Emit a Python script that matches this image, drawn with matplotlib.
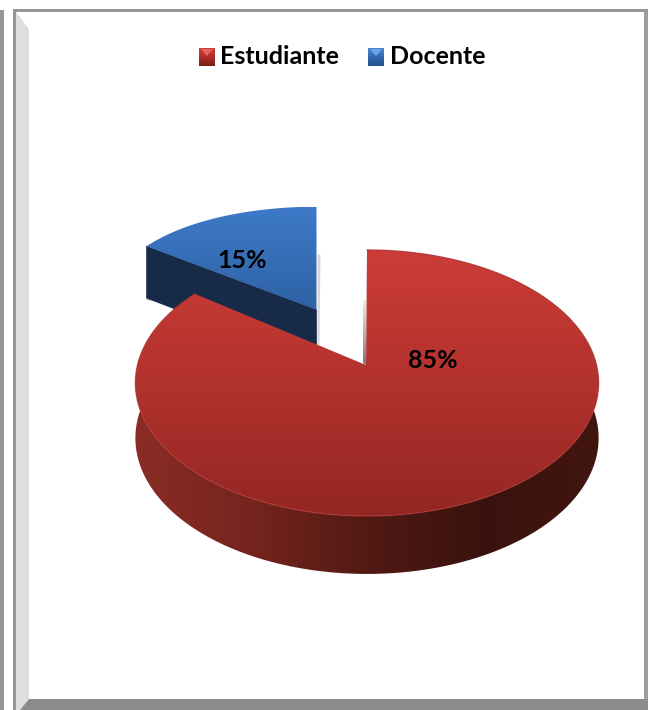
import numpy as np
import matplotlib
matplotlib.use("Agg")
import matplotlib.pyplot as plt
from matplotlib.patches import Polygon
from matplotlib.colors import LinearSegmentedColormap

categorias = ["Estudiante", "Docente"]
valores = [85, 15]
etiquetas = ["85%", "15%"]

# geometria del disco en perspectiva (en pixeles)
CX, CY = 367, 365
APEX_X = 366
RX, RY = 229.5, 130.6
K = 0.135
EXPLODE = 0.504
WALL = 54.7
BLUE_XS = 0.915

plt.rcParams["font.family"] = ["Lato", "DejaVu Sans"]

fig = plt.figure(figsize=(6.48, 7.10), dpi=100)
ax = fig.add_axes([0, 0, 1, 1])


def proyectar(u, v):
    s = 1 / (1 - K * v)
    return CX + RX * u * s, CY + RY * v * s, s


def arco(a0, a1, off=(0, 0), n=200):
    # angulos en grados, horario desde las 12
    t = np.radians(np.linspace(a0, a1, n))
    return proyectar(off[0] + np.sin(t), off[1] - np.cos(t))


def relleno(poly, stops, vertical=True, z=1):
    # gradiente recortado a la forma
    cmap = LinearSegmentedColormap.from_list("g", stops)
    p = Polygon(poly, closed=True, fc="none", ec="none", zorder=z)
    ax.add_patch(p)
    xs, ys = poly[:, 0], poly[:, 1]
    g = np.linspace(0, 1, 256)
    g = g[:, None] if vertical else g[None, :]
    im = ax.imshow(g, cmap=cmap, extent=(xs.min(), xs.max(), ys.max(), ys.min()),
                   aspect="auto", zorder=z, interpolation="bilinear")
    im.set_clip_path(p)


def rgb(r, g, b):
    return (r / 255, g / 255, b / 255)


ang = np.array(valores) / sum(valores) * 360
a_rojo = (0, ang[0])
a_azul = (ang[0], 360)

# --- sector azul separado ---
medio = np.radians(sum(a_azul) / 2)
off = (EXPLODE * np.sin(medio), -EXPLODE * np.cos(medio))
ax_x, ax_y, ax_s = proyectar(off[0], off[1])
ax_x -= 1
bx, by, bs = arco(*a_azul, off=off)
bx = ax_x + RX * BLUE_XS * np.sin(np.radians(np.linspace(*a_azul, 200)))

# sombra fina junto al borde recto azul
sombra = np.array([[bx[-1] + 1, by[-1] + 48], [bx[-1] + 4, by[-1] + 48], [ax_x + 3, ax_y + 36], [ax_x + 1, ax_y + 36]])
ax.add_patch(Polygon(sombra, fc=rgb(215, 215, 215), ec="none", zorder=1))
ax.add_patch(Polygon([[bx[0], by[0] + 50], [bx[0] + 28, by[0] + 60], [bx[0] + 28, by[0] + 57], [bx[0], by[0] + 54]],
                     fc=rgb(210, 210, 210), ec="none", zorder=1))

# cara interior oscura
borde_x = np.array([bx[0], ax_x])
borde_y = np.array([by[0], ax_y])
borde_s = np.array([bs[0], ax_s])
cara = np.r_[np.c_[borde_x, borde_y], np.c_[borde_x[::-1], (borde_y + WALL * borde_s ** 0.4)[::-1]]]
ax.add_patch(Polygon(cara, fc=rgb(23, 42, 72), ec=rgb(23, 42, 72), lw=0.5, zorder=2))

top_azul = np.r_[[[ax_x, ax_y]], np.c_[bx, by]]
relleno(top_azul, [rgb(62, 122, 200), rgb(46, 98, 165)], z=3)

# --- sector rojo ---
rx, ry, rs = arco(*a_rojo)
muro = np.r_[np.c_[rx, ry], np.c_[rx, ry + WALL * rs ** 0.4][::-1]]
relleno(muro, [rgb(138, 44, 38), rgb(118, 36, 30), rgb(82, 26, 20), rgb(58, 18, 13), rgb(66, 22, 16)],
        vertical=False, z=4)
top_rojo = np.r_[[[APEX_X, CY]], np.c_[rx, ry]]
relleno(top_rojo, [rgb(205, 60, 56), rgb(178, 50, 46), rgb(148, 38, 34)], z=5)
ax.plot(rx, ry, color=rgb(175, 55, 50), lw=1.0, alpha=0.7, zorder=6)

# sombra junto al borde recto del rojo
relleno(np.array([[APEX_X - 3, 300.0], [APEX_X, 300.0], [APEX_X, CY], [APEX_X - 3, CY - 2]]),
        [rgb(235, 235, 235), rgb(120, 120, 120)], z=2)

# etiquetas de datos
ax.text(433, 361, etiquetas[0], ha="center", va="center", fontsize=18, fontweight="bold", color="black", zorder=10)
ax.text(242, 260, etiquetas[1], ha="center", va="center", fontsize=18, fontweight="bold", color="black", zorder=10)

# --- marco ---
gris = rgb(150, 150, 150)
ax.fill([0, 4, 4, 0], [10, 10, 710, 710], color=gris, lw=0, zorder=20)
ax.fill([13, 648, 648, 13], [9, 9, 12, 12], color=gris, lw=0, zorder=20)
ax.fill([13, 16, 16, 13], [9, 9, 710, 710], color=gris, lw=0, zorder=20)
ax.fill([16, 29, 29, 20, 16], [12, 29, 699, 710, 710], color=rgb(222, 222, 222), lw=0, zorder=20)
ax.fill([20, 29, 648, 648], [710, 699, 699, 710], color=rgb(140, 140, 140), lw=0, zorder=20)
ax.fill([644, 648, 648, 644], [12, 12, 699, 699], color=rgb(158, 158, 158), lw=0, zorder=20)

# --- leyenda ---
cuadros = [(199, [rgb(205, 65, 60), rgb(175, 45, 42), rgb(125, 28, 25)], rgb(225, 100, 95)),
           (368, [rgb(75, 135, 210), rgb(50, 105, 175), rgb(35, 80, 140)], rgb(105, 165, 230))]
textos_x = [220, 390]
for (x0, stops, claro), nombre, tx in zip(cuadros, categorias, textos_x):
    cuad = np.array([[x0, 48.0], [x0 + 16, 48.0], [x0 + 16, 66.0], [x0, 66.0]])
    relleno(cuad, stops, z=21)
    ax.add_patch(Polygon([[x0 + 2, 49], [x0 + 14, 49], [x0 + 8, 56]], fc=claro, ec="none", zorder=22))
    ax.text(tx, 56.5, nombre, ha="left", va="center", fontsize=18, fontweight="bold", color="black", zorder=21)

ax.set_xlim(0, 648)
ax.set_ylim(710, 0)
ax.axis("off")
fig.savefig("out.png", dpi=100, facecolor="white")
